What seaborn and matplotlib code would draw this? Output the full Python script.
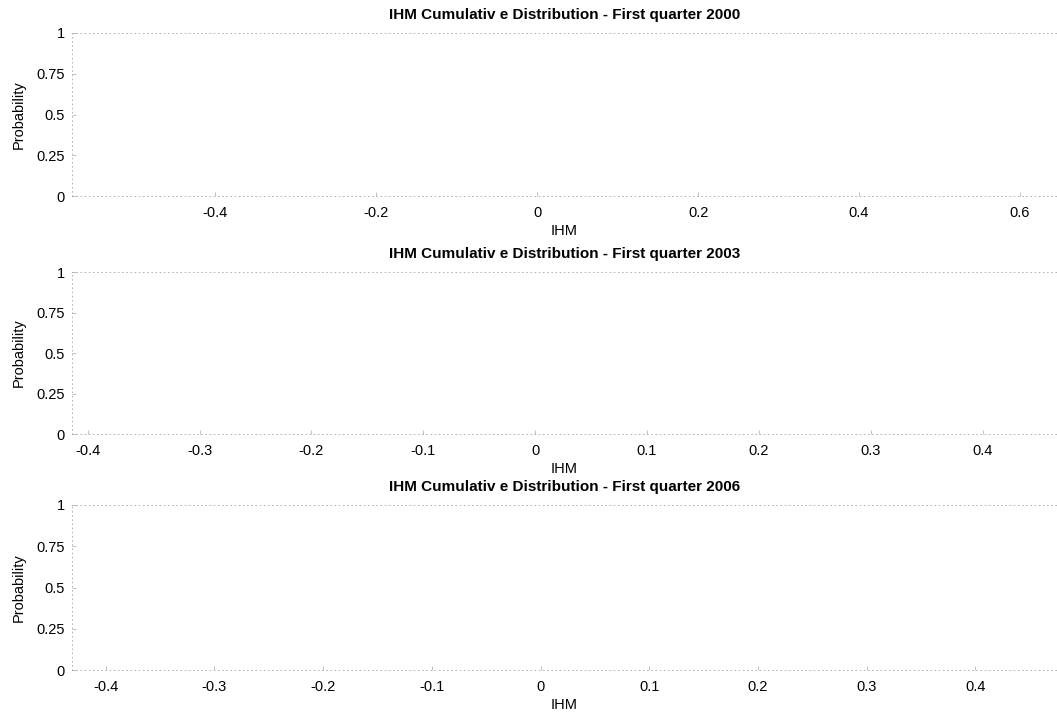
import matplotlib
matplotlib.use("Agg")
import matplotlib.pyplot as plt
import seaborn as sns

# ---- data ----
years = ["2000", "2003", "2006"]
titles = ["IHM Cumulativ e Distribution - First quarter " + y for y in years]
x_limits = [(-0.578, 0.646), (-0.414, 0.4665), (-0.431, 0.475)]
x_ticks = [
    [-0.4, -0.2, 0, 0.2, 0.4, 0.6],
    [-0.4, -0.3, -0.2, -0.1, 0, 0.1, 0.2, 0.3, 0.4],
    [-0.4, -0.3, -0.2, -0.1, 0, 0.1, 0.2, 0.3, 0.4],
]
y_ticks = [0, 0.25, 0.5, 0.75, 1]
y_tick_labels = ["0", "0.25", "0.5", "0.75", "1"]
x_label = "IHM"
y_label = "Probability"

sns.set_theme(style="white")
plt.rcParams["font.family"] = ["Liberation Sans", "DejaVu Sans"]
plt.rcParams["text.color"] = "black"
plt.rcParams["axes.labelcolor"] = "black"
plt.rcParams["axes.titlecolor"] = "black"

W, H = 1057, 716
fig = plt.figure(figsize=(W / 100, H / 100), dpi=100)
fig.patch.set_facecolor("white")

# panel boxes in pixels: (top, bottom)
boxes = [(33, 196), (272, 434), (505, 670)]
left_px, right_px = 72, 1057

frame_col = "#a8a8a8"
for i, (top, bot) in enumerate(boxes):
    ax = fig.add_axes([left_px / W, 1 - bot / H, (right_px - left_px) / W, (bot - top) / H])
    ax.set_facecolor("white")
    ax.set_xlim(*x_limits[i])
    ax.set_ylim(0, 1)
    ax.set_xticks(x_ticks[i])
    ax.set_xticklabels(["0" if v == 0 else f"{v:g}" for v in x_ticks[i]])
    ax.set_yticks(y_ticks)
    ax.set_yticklabels(y_tick_labels)
    for side in ["top", "bottom", "left"]:
        sp = ax.spines[side]
        sp.set_visible(True)
        sp.set_color(frame_col)
        sp.set_linewidth(0.6)
        sp.set_linestyle((0, (1, 4)))
    ax.spines["right"].set_visible(False)
    ax.tick_params(axis="both", direction="in", length=3, width=0.5,
                   color=frame_col, labelsize=10.5, labelcolor="black",
                   bottom=True, left=True)
    ax.tick_params(axis="x", pad=7)
    ax.tick_params(axis="y", pad=5)
    ax.set_xlabel(x_label, fontsize=10.5, labelpad=3, color="black")
    ax.set_ylabel(y_label, fontsize=10.5, labelpad=8, color="black")
    ax.set_title(titles[i], fontsize=11, fontweight="bold", pad=10, color="black")
    ax.grid(False)

fig.savefig("out.png", dpi=100, facecolor="white")
